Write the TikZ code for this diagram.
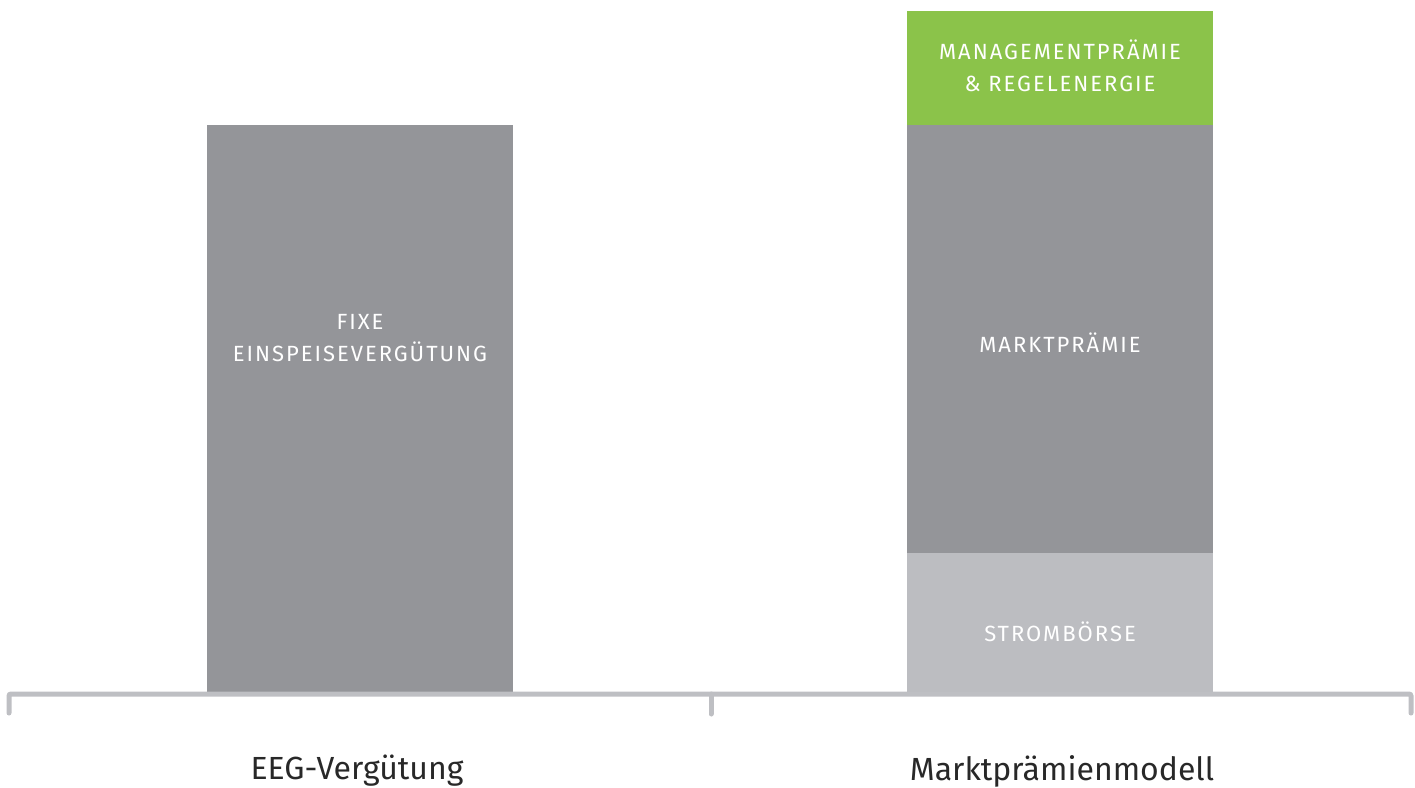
\documentclass[tikz,border=0pt]{standalone}
\usepackage{fontspec}
\setmainfont{Fira Sans}
\newfontfamily\capsfont[LetterSpace=9]{Fira Sans}
\usetikzlibrary{positioning}
\definecolor{bargray}{RGB}{148,149,153}
\definecolor{lightbar}{RGB}{188,189,193}
\definecolor{greenbar}{RGB}{139,195,74}
\definecolor{axisgray}{RGB}{190,191,195}
\definecolor{labeltext}{RGB}{40,40,40}
\tikzset{
    % Define standard node styles
    barbox/.style={
        rectangle, draw=none, inner sep=0pt, minimum width=306pt,
        anchor=north west
    },
    bartext/.style={
        text=white, font=\capsfont\fontsize{22}{32}\selectfont,
        align=center
    },
    grouplabel/.style={
        text=labeltext, font=\fontsize{32}{38}\selectfont
    },
    axisline/.style={
        line width=5pt, color=axisgray, line cap=round
    }
}
\begin{document}
\begin{tikzpicture}[x=1pt,y=-1pt]
\useasboundingbox (0,0) rectangle (1415,787);

% EEG bar
\node[barbox, fill=bargray, minimum height=567pt] (eeg_bar) at (207,125) {};
\node[bartext] (eeg_text) at (360,338) {FIXE\\EINSPEISEVERGÜTUNG};

% Market premium stack
\node[barbox, fill=greenbar, minimum height=114pt] (mgmt_bar) at (907,11) {};
\node[barbox, fill=bargray, minimum height=429pt, below=-1pt of mgmt_bar.south west, anchor=north west] (premium_bar) {};
\node[barbox, fill=lightbar, minimum height=140pt, below=-1pt of premium_bar.south west, anchor=north west] (exchange_bar) {};
\node[bartext] (mgmt_text) at (1060,66) {MANAGEMENTPRÄMIE\\\&~REGELENERGIE};
\node[bartext] (premium_text) at (1060,343) {MARKTPRÄMIE};
\node[bartext] (exchange_text) at (1060,632) {STROMBÖRSE};

% Axis with brackets
\coordinate (axis_left) at (9,713);
\coordinate (axis_right) at (1411,713);
\coordinate (tick_top) at (711,694);
\coordinate (tick_bottom) at (711,714);
\draw[axisline, rounded corners=2pt] (axis_left) -- (9,694) -- (1411,694) -- (axis_right);
\draw[axisline] (tick_top) -- (tick_bottom);

% Group labels
\node[grouplabel] (eeg_label) at (357,771) {EEG-Vergütung};
\node[grouplabel] (market_label) at (1062,771) {Marktprämienmodell};

\end{tikzpicture}
\end{document}
